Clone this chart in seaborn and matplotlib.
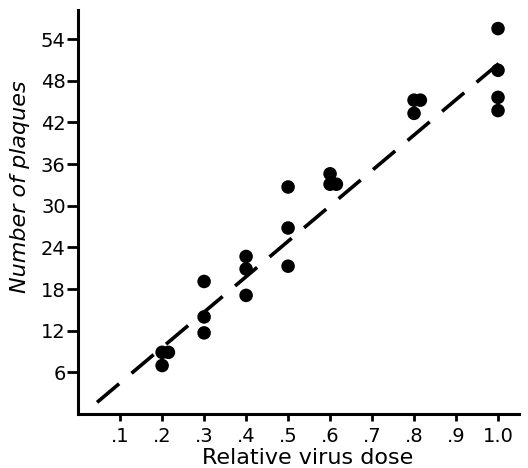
import matplotlib
matplotlib.use("Agg")
import matplotlib.pyplot as plt
import seaborn as sns
import pandas as pd

# Data
dose = [0.20, 0.20, 0.215, 0.30, 0.30, 0.30, 0.40, 0.40, 0.40, 0.50, 0.50, 0.50,
        0.60, 0.60, 0.615, 0.80, 0.80, 0.815, 1.00, 1.00, 1.00, 1.00]
plaques = [7.0, 8.9, 8.9, 19.1, 14.0, 11.7, 22.7, 20.9, 17.1, 32.7, 26.8, 21.3,
           34.6, 33.1, 33.1, 45.2, 43.3, 45.2, 55.5, 49.5, 45.6, 43.7]
fit_x = [0.045, 1.03]
fit_y = [1.7, 51.9]
xticks = [0.1, 0.2, 0.3, 0.4, 0.5, 0.6, 0.7, 0.8, 0.9, 1.0]
xticklabels = [".1", ".2", ".3", ".4", ".5", ".6", ".7", ".8", ".9", "1.0"]
yticks = [6, 12, 18, 24, 30, 36, 42, 48, 54]

sns.set_theme(style="ticks")
plt.rcParams['font.family'] = ['DejaVu Sans']

fig = plt.figure(figsize=(5.28, 4.68), dpi=100)
ax = fig.add_axes([0.148, 0.115, 0.835, 0.864])

pts = pd.DataFrame({"dose": dose, "plaques": plaques})
fit = pd.DataFrame({"x": fit_x, "y": fit_y})

sns.lineplot(data=fit, x="x", y="y", ax=ax, color="black", linewidth=2.6,
             dashes=False, linestyle=(0, (8, 4.5)))
sns.scatterplot(data=pts, x="dose", y="plaques", ax=ax, color="black",
                s=95, edgecolor="none", zorder=3)

ax.set_xlim(0, 1.05)
ax.set_ylim(0, 58.2)
ax.set_xticks(xticks)
ax.set_xticklabels(xticklabels)
ax.set_yticks(yticks)
ax.tick_params(axis="both", direction="out", width=2,
               labelsize=14, colors="black")
ax.tick_params(axis="y", length=8, pad=1)
ax.tick_params(axis="x", length=5, pad=4)
for s in ["top", "right"]:
    ax.spines[s].set_visible(False)
for s in ["left", "bottom"]:
    ax.spines[s].set_linewidth(2.2)
    ax.spines[s].set_color("black")

ax.set_xlabel("Relative virus dose", fontsize=16, color="black")
ax.set_ylabel("Number of plaques", fontsize=16, color="black",
              fontstyle="italic")
ax.xaxis.set_label_coords(0.52, -0.109)
ax.xaxis.label.set_va("center")
ax.yaxis.set_label_coords(-0.131, 0.562)
ax.yaxis.label.set_va("center")

fig.savefig("out.png", dpi=100)
